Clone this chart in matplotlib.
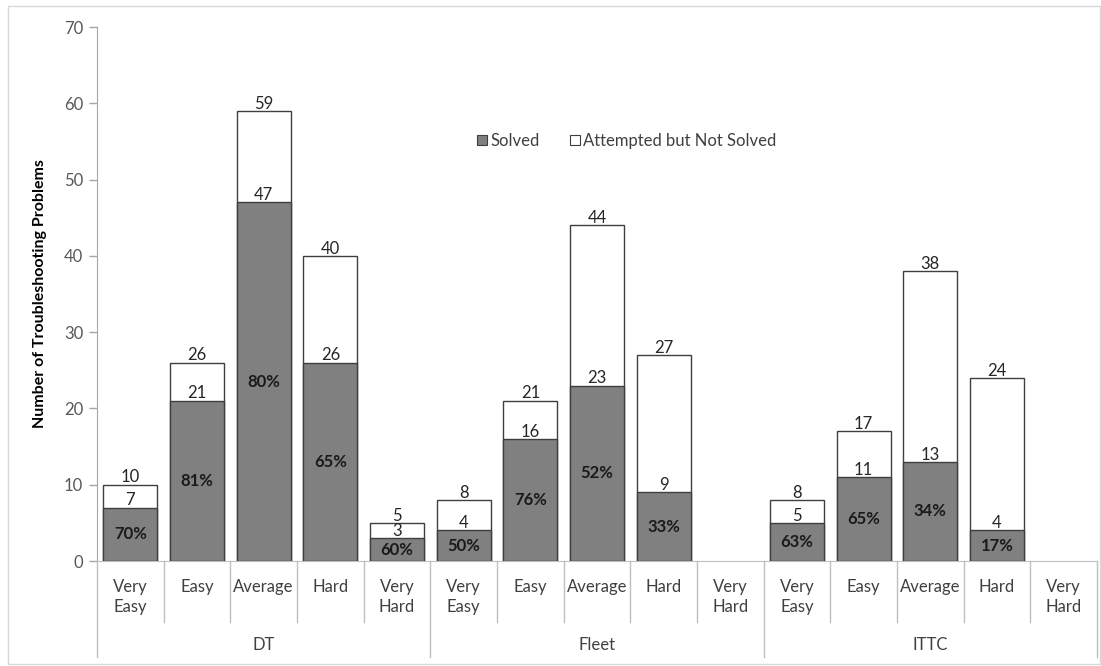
import numpy as np
import matplotlib
matplotlib.use('Agg')
import matplotlib.pyplot as plt
from matplotlib.patches import Patch, Rectangle
from matplotlib.lines import Line2D
from matplotlib.transforms import blended_transform_factory

plt.rcParams['font.family'] = ['Lato', 'DejaVu Sans']

# Data
groups = ['DT', 'Fleet', 'ITTC']
levels = ['Very\nEasy', 'Easy', 'Average', 'Hard', 'Very\nHard']
attempted = [10, 26, 59, 40, 5,
             8, 21, 44, 27, np.nan,
             8, 17, 38, 24, np.nan]
solved = [7, 21, 47, 26, 3,
          4, 16, 23, 9, np.nan,
          5, 11, 13, 4, np.nan]
percent = ['70%', '81%', '80%', '65%', '60%',
           '50%', '76%', '52%', '33%', '',
           '63%', '65%', '34%', '17%', '']

W, H = 1101, 666
fig = plt.figure(figsize=(W / 100, H / 100), dpi=100)
ax = fig.add_axes([97 / W, 1 - 561 / H, 1000 / W, 534 / H])

# outer chart frame
fig.patches.append(Rectangle((8 / W, 1 - 664 / H), 1092 / W, 658 / H,
                             transform=fig.transFigure, fill=False,
                             edgecolor='#d9d9d9', lw=1.0))

x = np.arange(len(attempted))
gray = '#808080'
edge = '#3f3f3f'
bw = 0.81
fs = 12

ax.bar(x, attempted, width=bw, color='white', edgecolor=edge, lw=1.0,
       zorder=2)
ax.bar(x, solved, width=bw, color=gray, edgecolor=edge, lw=1.0, zorder=3)

for i in range(len(x)):
    if np.isnan(attempted[i]):
        continue
    ax.annotate('%d' % attempted[i], (x[i], attempted[i]), xytext=(0, -0.5),
                textcoords='offset points', ha='center', va='bottom',
                fontsize=fs, color='#262626', zorder=5)
    ax.annotate('%d' % solved[i], (x[i], solved[i]), xytext=(0, -0.5),
                textcoords='offset points', ha='center', va='bottom',
                fontsize=fs, color='#262626', zorder=5)
    ax.text(x[i], solved[i] / 2, percent[i], ha='center', va='center',
            fontsize=fs, fontweight='bold', color='#1a1a1a', zorder=5)

ax.set_xlim(-0.5, len(x) - 0.5)
ax.set_ylim(0, 70)
ax.set_yticks(range(0, 71, 10))
ax.tick_params(axis='y', colors='#a6a6a6', labelcolor='#595959',
               labelsize=fs, length=6, width=1.0, direction='out', pad=4)
ax.set_xticks([])
for s in ['top', 'right']:
    ax.spines[s].set_visible(False)
ax.spines['left'].set_color('#a6a6a6')
ax.spines['bottom'].set_color('#bfbfbf')
ax.set_ylabel('Number of Troubleshooting Problems', fontsize=11.5,
              fontweight='bold', labelpad=12)

# multi-level category axis
tr = blended_transform_factory(ax.transData, fig.transFigure)
y_axis = 1 - 561 / H
y_short = 1 - 622 / H
y_long = 1 - 657 / H
n = len(levels)
for k in range(len(x) + 1):
    xb = k - 0.5
    bottom = y_long if k % n == 0 else y_short
    fig.add_artist(Line2D([xb, xb], [y_axis, bottom], transform=tr,
                          color='#bfbfbf', lw=1.0))
for i in range(len(x)):
    fig.text(x[i], 1 - 579 / H, levels[i % n], transform=tr, ha='center',
             va='top', fontsize=fs, color='#404040', linespacing=1.3)
for g, name in enumerate(groups):
    fig.text(g * n + (n - 1) / 2, 1 - 645 / H, name, transform=tr,
             ha='center', va='center', fontsize=fs, color='#404040')

handles = [Patch(facecolor=gray, edgecolor=edge, lw=0.8, label='Solved'),
           Patch(facecolor='white', edgecolor=edge, lw=0.8,
                 label='Attempted but Not Solved')]
ax.legend(handles=handles, loc='center', bbox_to_anchor=(0.53, 0.787),
          ncol=2, frameon=False, fontsize=fs, handlelength=0.6,
          handleheight=0.6, handletextpad=0.2, columnspacing=1.8,
          labelcolor='#404040')

fig.savefig('out.png', dpi=100)
